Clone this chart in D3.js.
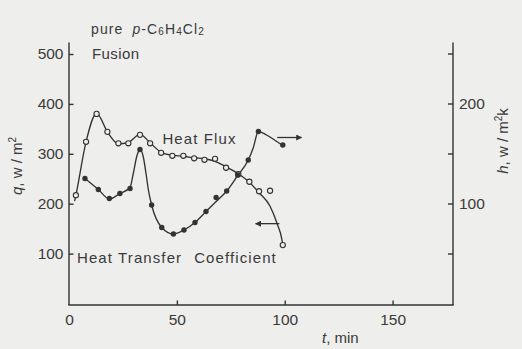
<!DOCTYPE html>
<html>
<head>
<meta charset="utf-8">
<script src="https://cdn.jsdelivr.net/npm/d3@7"></script>
<style>
  html, body { margin: 0; padding: 0; background: #eeeeec; }
  svg { display: block; }
  text { font-family: "Liberation Sans", Arial, sans-serif; fill: #3a3a3a; }
</style>
</head>
<body>
<svg id="chart" width="522" height="349"></svg>
<script>
// Heat flux q (W/m²) measured during fusion, open circles
const fluxT = [3.2, 7.9, 12.8, 17.8, 22.9, 27.5, 32.9, 37.6, 42.7, 47.9, 53.0, 58.0, 62.8, 67.7, 72.8, 78.5, 83.6, 88.1, 93.2, 99.1];
const fluxQ = [217, 324, 380, 344, 321, 321, 338, 321, 302, 296, 296, 291, 288, 290, 272, 259, 244, 225, 226, 117];

// Smoothed heat flux curve drawn through the measurements
const fluxFitT = [2.6, 3.2, 7.9, 12.8, 17.8, 22.9, 27.5, 32.9, 37.6, 42.7, 47.9, 53.0, 58.0, 62.8, 67.7, 72.8, 78.5, 83.6, 88.1, 93.2, 96.5, 98.6, 99.1];
const fluxFitQ = [205, 217, 324, 381, 344, 320, 323, 339, 322, 303, 297, 295, 292, 290, 285, 274, 260, 243, 222, 195, 160, 130, 117];

// Heat transfer coefficient h (W/m²K), filled dots
const htcT = [7.4, 13.6, 18.7, 23.6, 28.3, 32.9, 38.3, 43.0, 48.4, 53.3, 58.4, 63.5, 68.2, 73.1, 78.2, 83.1, 87.8, 99.1];
const htcH = [125, 114, 105, 110, 115, 154, 98.5, 76, 69.5, 73.5, 81, 92, 106, 112.5, 128.5, 143.5, 172, 158.5];

// Smoothed heat transfer coefficient curve
const htcFitT = [7.4, 13.6, 18.7, 23.6, 28.3, 29.8, 31.4, 32.9, 34.4, 35.7, 36.8, 38.3, 43.0, 48.4, 53.3, 58.4, 63.5, 68.2, 73.1, 78.2, 83.1, 85.3, 87.8, 91.6, 96.3, 99.1];
const htcFitH = [125, 114, 104.5, 110, 116, 130, 147, 154, 147, 130, 113.5, 98.5, 76, 69.5, 73.5, 81, 92, 102, 112.5, 128, 143.5, 155, 172, 168.5, 162, 158];

// Axis ticks
const timeTicks = [0, 50, 100, 150];
const qTicks = [100, 200, 300, 400, 500];
const hTicks = [50, 100, 150, 200, 250];
const hTickLabels = [100, 200];

const svg = d3.select("#chart");
const ink = "#333";

const x = d3.scaleLinear().domain([0, 178]).range([69, 453]);
const yq = d3.scaleLinear().domain([0, 500]).range([303.5, 54]);
const yh = d3.scaleLinear().domain([0, 250]).range([303.5, 53.5]);

const axisY = 305;      // baseline of the time axis
const axisTop = 42.5;   // top of both vertical axes

// Frame lines
svg.append("line").attr("x1", x(0)).attr("x2", x(0)).attr("y1", axisY).attr("y2", axisTop)
  .attr("stroke", ink).attr("stroke-width", 1.4);
svg.append("line").attr("x1", x(178)).attr("x2", x(178)).attr("y1", axisY).attr("y2", axisTop)
  .attr("stroke", ink).attr("stroke-width", 1.4);
svg.append("line").attr("x1", x(0) - 0.7).attr("x2", x(178) + 0.7).attr("y1", axisY).attr("y2", axisY)
  .attr("stroke", ink).attr("stroke-width", 1.4);

function styleAxis(g) {
  g.select(".domain").remove();
  g.selectAll(".tick line").attr("stroke", ink).attr("stroke-width", 1.4);
  g.selectAll(".tick text").attr("fill", "#3a3a3a")
    .style("font-family", '"Liberation Sans", Arial, sans-serif')
    .style("font-size", "15.5px");
}

// Left axis: heat flux
svg.append("g").attr("transform", `translate(${x(0)},0)`)
  .call(d3.axisLeft(yq).tickValues(qTicks).tickSizeInner(-4.5).tickSizeOuter(0).tickPadding(5.5))
  .call(styleAxis);

// Right axis: heat transfer coefficient
svg.append("g").attr("transform", `translate(${x(178)},0)`)
  .call(d3.axisRight(yh).tickValues(hTicks).tickSizeInner(-5).tickSizeOuter(0).tickPadding(6)
    .tickFormat(d => hTickLabels.includes(d) ? d : ""))
  .call(styleAxis);

// Bottom axis: time
const xg = svg.append("g").attr("transform", `translate(0,${axisY})`)
  .call(d3.axisBottom(x).tickValues(timeTicks).tickSizeInner(-4.5).tickSizeOuter(0).tickPadding(9))
  .call(styleAxis);
xg.selectAll(".tick").filter(d => d === 0).select("line").remove();

// Curves
const fluxFit = fluxFitT.map((t, i) => ({ t, v: fluxFitQ[i] }));
const htcFit = htcFitT.map((t, i) => ({ t, v: htcFitH[i] }));

svg.append("path").datum(fluxFit)
  .attr("d", d3.line().x(d => x(d.t)).y(d => yq(d.v)).curve(d3.curveMonotoneX))
  .attr("fill", "none").attr("stroke", ink).attr("stroke-width", 1.35);

svg.append("path").datum(htcFit)
  .attr("d", d3.line().x(d => x(d.t)).y(d => yh(d.v)).curve(d3.curveMonotoneX))
  .attr("fill", "none").attr("stroke", ink).attr("stroke-width", 1.35);

// Markers
svg.append("g").selectAll("circle").data(fluxT.map((t, i) => ({ t, v: fluxQ[i] })))
  .join("circle")
  .attr("cx", d => x(d.t)).attr("cy", d => yq(d.v)).attr("r", 2.6)
  .attr("fill", "#eeeeec").attr("stroke", ink).attr("stroke-width", 1.1);

svg.append("g").selectAll("circle").data(htcT.map((t, i) => ({ t, v: htcH[i] })))
  .join("circle")
  .attr("cx", d => x(d.t)).attr("cy", d => yh(d.v)).attr("r", 2.7)
  .attr("fill", ink);

// Arrows pointing each curve to its axis
const defs = svg.append("defs");
defs.append("marker").attr("id", "head")
  .attr("viewBox", "0 0 10 10").attr("refX", 9).attr("refY", 5)
  .attr("markerWidth", 7).attr("markerHeight", 6).attr("markerUnits", "userSpaceOnUse")
  .attr("orient", "auto")
  .append("path").attr("d", "M0,0 L10,5 L0,10 Z").attr("fill", ink);

svg.append("line")
  .attr("x1", x(96.5)).attr("y1", yh(166)).attr("x2", x(107.8)).attr("y2", yh(166))
  .attr("stroke", ink).attr("stroke-width", 1.3).attr("marker-end", "url(#head)");
svg.append("line")
  .attr("x1", x(97.5)).attr("y1", yq(160)).attr("x2", x(86.5)).attr("y2", yq(160))
  .attr("stroke", ink).attr("stroke-width", 1.3).attr("marker-end", "url(#head)");

// Labels
const label = (t, px, py, size, ls) => svg.append("text")
  .attr("x", px).attr("y", py)
  .style("font-size", size + "px").attr("letter-spacing", ls)
  .text(t);

label("Fusion", 92, 59, 15, 0.4);
label("Heat Flux", x(43.3), yq(319), 15, 1.1);
const htcLabel = svg.append("text").attr("x", 77).attr("y", 263)
  .style("font-size", "15px").attr("letter-spacing", 1.1);
htcLabel.append("tspan").text("Heat Transfer");
htcLabel.append("tspan").attr("dx", 12).text("Coefficient");

// Substance title with subscripts
const title = svg.append("text").attr("x", 91).attr("y", 34)
  .style("font-size", "14px").attr("letter-spacing", 1.1);
title.append("tspan").text("pure ");
title.append("tspan").attr("dx", 4).style("font-style", "italic").text("p");
title.append("tspan").text("-C");
title.append("tspan").style("font-size", "10px").attr("dy", 1).text("6");
title.append("tspan").attr("dy", -1).text("H");
title.append("tspan").style("font-size", "10px").attr("dy", 1).text("4");
title.append("tspan").attr("dy", -1).text("Cl");
title.append("tspan").style("font-size", "10px").attr("dy", 1).text("2");

// Axis titles
const qTitle = svg.append("text").attr("transform", "translate(22,166) rotate(-90)")
  .attr("text-anchor", "middle").style("font-size", "15px");
qTitle.append("tspan").style("font-style", "italic").text("q");
qTitle.append("tspan").text(", w / m");
qTitle.append("tspan").style("font-size", "10px").attr("dy", -6).text("2");

const hTitle = svg.append("text").attr("transform", "translate(508,141) rotate(-90)")
  .attr("text-anchor", "middle").style("font-size", "15px");
hTitle.append("tspan").style("font-style", "italic").text("h");
hTitle.append("tspan").text(", w / m");
hTitle.append("tspan").style("font-size", "10px").attr("dy", -6).text("2");
hTitle.append("tspan").attr("dy", 6).text("k");

const tTitle = svg.append("text").attr("x", 322).attr("y", 343).style("font-size", "15px");
tTitle.append("tspan").style("font-style", "italic").text("t");
tTitle.append("tspan").text(", min");
</script>
</body>
</html>
